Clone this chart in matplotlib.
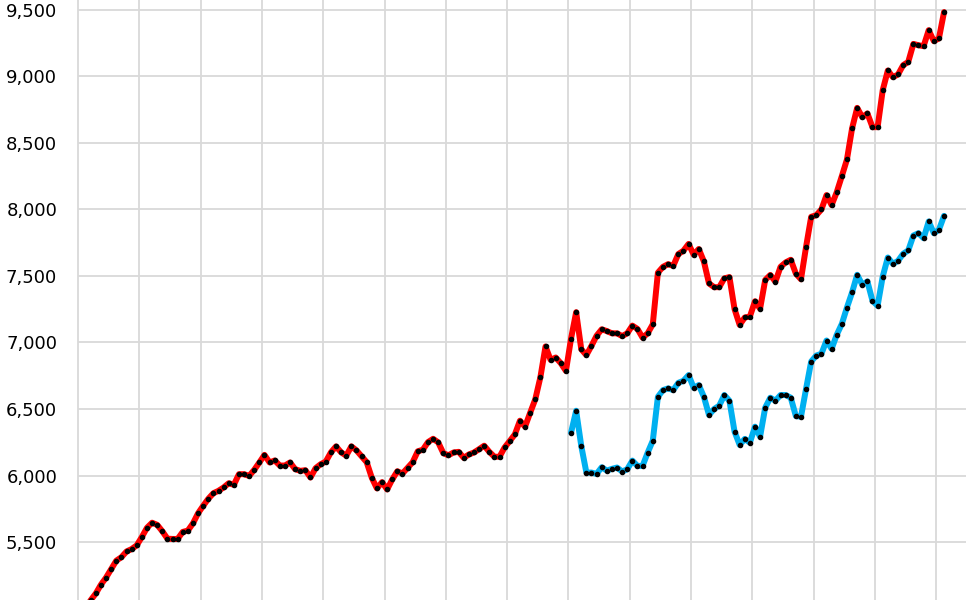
import numpy as np
import matplotlib
matplotlib.use("Agg")
import matplotlib.pyplot as plt
from matplotlib.ticker import FuncFormatter, MultipleLocator

# monthly values (index 0 = first month)
red_values = [
    4950, 5010, 5063, 5114, 5180, 5233, 5297, 5360, 5386, 5429, 5447, 5475,
    5538, 5607, 5645, 5629, 5581, 5525, 5523, 5523, 5576, 5586, 5640, 5716,
    5772, 5825, 5867, 5885, 5910, 5942, 5930, 6010, 6010, 5997, 6043, 6098,
    6155, 6098, 6113, 6075, 6075, 6098, 6048, 6035, 6040, 5985, 6055, 6085,
    6105, 6174, 6219, 6174, 6149, 6219, 6189, 6144, 6100, 5983, 5903, 5950,
    5895, 5970, 6032, 6015, 6057, 6100, 6182, 6194, 6251, 6276, 6249, 6168,
    6152, 6173, 6178, 6133, 6158, 6173, 6198, 6224, 6178, 6141, 6141, 6211,
    6259, 6309, 6412, 6367, 6472, 6573, 6739, 6970, 6869, 6887, 6844, 6786,
    7030, 7228, 6949, 6905, 6975, 7051, 7099, 7086, 7069, 7069, 7048, 7069,
    7127, 7102, 7036, 7069, 7137, 7525, 7569, 7589, 7576, 7665, 7690, 7741,
    7660, 7703, 7609, 7444, 7416, 7416, 7482, 7492, 7251, 7132, 7188, 7195,
    7310, 7254, 7470, 7508, 7457, 7569, 7602, 7622, 7518, 7475, 7720, 7945,
    7957, 8000, 8108, 8033, 8130, 8251, 8376, 8609, 8764, 8694, 8722, 8619,
    8619, 8897, 9045, 8995, 9015, 9085, 9110, 9245, 9235, 9228, 9348, 9266,
    9286, 9484,
]

blue_start = 96
blue_values = [
    6322, 6487, 6222, 6022, 6022, 6012, 6062, 6037, 6050, 6060, 6030, 6047,
    6112, 6072, 6072, 6172, 6262, 6592, 6642, 6655, 6642, 6697, 6712, 6755,
    6660, 6680, 6592, 6455, 6500, 6525, 6605, 6562, 6330, 6230, 6275, 6247,
    6367, 6292, 6510, 6585, 6562, 6605, 6605, 6585, 6447, 6442, 6652, 6857,
    6902, 6915, 7015, 6952, 7058, 7140, 7263, 7376, 7509, 7434, 7459, 7313,
    7276, 7496, 7639, 7591, 7614, 7667, 7692, 7804, 7822, 7784, 7910, 7822,
    7847, 7952,
]

x_red = np.arange(len(red_values))
x_blue = np.arange(blue_start, blue_start + len(blue_values))

fig = plt.figure(figsize=(9.66, 6.0), dpi=100)
ax = fig.add_axes([78 / 966, 0, 1 - 78 / 966, 1])

grid_col = "#D9D9D9"

# red series
ax.plot(x_red, red_values, color="#FF0000", lw=4.3, solid_joinstyle="round",
        solid_capstyle="round", zorder=3)
ax.plot(x_red, red_values, ls="none", marker="o", ms=3, color="black", zorder=4)

# blue series
ax.plot(x_blue, blue_values, color="#00B0F0", lw=4.3, solid_joinstyle="round",
        solid_capstyle="round", zorder=3)
ax.plot(x_blue, blue_values, ls="none", marker="o", ms=3, color="black", zorder=4)

ax.set_xlim(-0.5, 173.3)
ax.set_ylim(5064, 9575)

ax.set_xticks(np.arange(11.5, 174, 12))
ax.yaxis.set_major_locator(MultipleLocator(500))
ax.yaxis.set_major_formatter(FuncFormatter(lambda v, p: f"{int(v):,}"))

ax.grid(True, color=grid_col, lw=1.3)
ax.set_axisbelow(True)
ax.tick_params(axis="x", length=0, labelbottom=False)
ax.tick_params(axis="y", length=0, pad=15, labelsize=13)
for lab in ax.get_yticklabels():
    lab.set_fontfamily("DejaVu Sans")

for s in ["top", "right", "bottom"]:
    ax.spines[s].set_visible(False)
ax.spines["left"].set_color(grid_col)
ax.spines["left"].set_linewidth(1.3)

plt.savefig("out.png", dpi=100)
